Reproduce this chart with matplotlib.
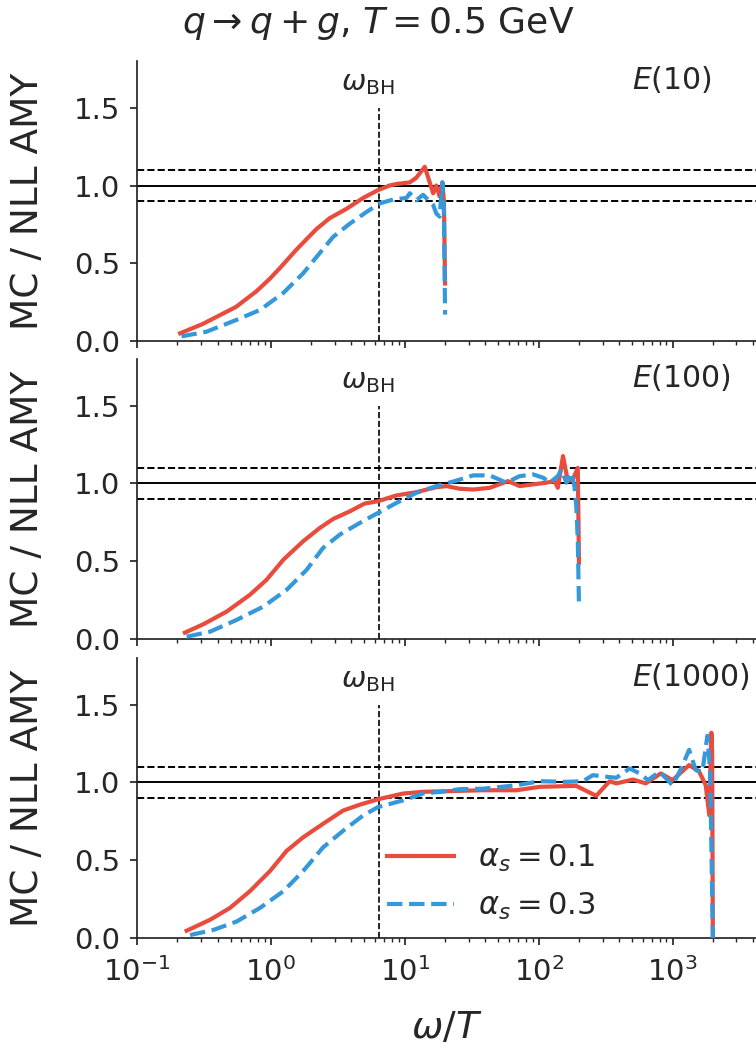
import numpy as np
import matplotlib
matplotlib.use("Agg")
import matplotlib.pyplot as plt

# omega/T values and MC / NLL AMY ratios
# E(10)
x10_a1 = [0.21, 0.31, 0.55, 0.78, 0.98, 1.17, 1.56, 2.19, 2.75, 3.67, 4.89, 6.3, 7.7, 8.7,
          10.9, 12.2, 14.1, 16.3, 17.2, 18.2, 19.1, 19.6, 20.0]
y10_a1 = [0.05, 0.11, 0.22, 0.32, 0.40, 0.47, 0.59, 0.72, 0.79, 0.85, 0.92, 0.97, 1.00, 1.01,
          1.02, 1.05, 1.12, 0.95, 1.00, 0.93, 1.02, 0.90, 0.37]
x10_a3 = [0.215, 0.33, 0.55, 0.83, 1.24, 1.74, 2.19, 2.92, 3.89, 5.18, 6.5, 8.2, 10.3, 10.9,
          12.2, 13.7, 16.3, 17.2, 18.2, 19.1, 19.6, 20.0]
y10_a3 = [0.03, 0.06, 0.135, 0.20, 0.31, 0.435, 0.54, 0.67, 0.755, 0.83, 0.885, 0.91, 0.92, 0.95,
          0.905, 0.94, 0.875, 0.82, 0.80, 1.02, 0.85, 0.17]

# E(100)
x100_a1 = [0.228, 0.313, 0.467, 0.697, 0.929, 1.24, 1.74, 2.32, 2.92, 3.89, 5.02, 6.32, 8.67,
           12.2, 17.2, 20.5, 25.7, 32.4, 43.1, 59.0, 72.1, 90.8, 114, 132, 139, 152, 165, 180,
           196, 200]
y100_a1 = [0.041, 0.095, 0.176, 0.284, 0.381, 0.51, 0.628, 0.714, 0.772, 0.821, 0.871, 0.886,
           0.923, 0.944, 0.976, 0.983, 0.966, 0.961, 0.972, 1.015, 0.983, 0.994, 1.005, 1.015,
           0.972, 1.176, 1.015, 1.026, 1.10, 0.49]
x100_a3 = [0.235, 0.351, 0.555, 0.877, 1.31, 1.85, 2.45, 3.27, 4.61, 6.32, 8.67, 12.2, 17.2,
           23.6, 32.4, 43.1, 57.3, 72.1, 90.8, 108, 121, 139, 148, 161, 175, 185, 191, 196, 200]
y100_a3 = [0.015, 0.047, 0.123, 0.208, 0.316, 0.445, 0.585, 0.671, 0.746, 0.811, 0.875, 0.94,
           0.983, 1.015, 1.052, 1.052, 1.005, 1.047, 1.058, 1.037, 1.005, 1.047, 1.09, 1.005,
           1.069, 0.983, 0.854, 0.64, 0.22]

# E(1000)
x1000_a1 = [0.235, 0.351, 0.494, 0.697, 0.984, 1.31, 1.74, 2.45, 3.47, 4.61, 6.32, 9.73, 13.7,
            20.5, 38.5, 68.2, 102, 191, 269, 339, 380, 506, 631, 817, 1000, 1330, 1580, 1770,
            1880, 1950, 1975, 2000]
y1000_a1 = [0.047, 0.117, 0.193, 0.301, 0.43, 0.56, 0.647, 0.734, 0.82, 0.857, 0.892, 0.929,
            0.94, 0.944, 0.95, 0.95, 0.972, 0.978, 0.914, 1.008, 0.994, 1.019, 0.994, 1.058,
            1.015, 1.112, 1.07, 0.982, 0.79, 1.32, 1.2, 0.0]
x1000_a3 = [0.249, 0.372, 0.555, 0.828, 1.24, 1.74, 2.45, 3.47, 4.89, 6.32, 9.73, 13.7, 20.5,
            25.7, 38.5, 68.2, 102, 161, 214, 254, 320, 380, 478, 568, 655, 800, 1000, 1160,
            1330, 1490, 1670, 1820, 1910, 2000]
y1000_a3 = [0.019, 0.052, 0.106, 0.193, 0.301, 0.43, 0.582, 0.69, 0.788, 0.842, 0.885, 0.929,
            0.944, 0.957, 0.96, 0.982, 1.008, 1.004, 1.008, 1.047, 1.037, 1.03, 1.09, 1.058,
            1.015, 1.07, 0.982, 1.09, 1.21, 1.08, 1.07, 1.30, 1.07, 0.0]

panel_labels = [r'$E(10)$', r'$E(100)$', r'$E(1000)$']
series_labels = [r'$\alpha_s = 0.1$', r'$\alpha_s = 0.3$']
omega_bh = 6.4

dark = '.15'
plt.rcParams['font.family'] = ['DejaVu Sans']
plt.rcParams['text.color'] = dark
plt.rcParams['axes.labelcolor'] = dark
plt.rcParams['xtick.color'] = dark
plt.rcParams['ytick.color'] = dark
plt.rcParams['axes.edgecolor'] = dark

red = '#e74c3c'
blue = '#3498db'

fig = plt.figure(figsize=(7.56, 10.51), dpi=100)
bottoms = [0.6755, 0.3920, 0.1075]
data = [(x10_a1, y10_a1, x10_a3, y10_a3),
        (x100_a1, y100_a1, x100_a3, y100_a3),
        (x1000_a1, y1000_a1, x1000_a3, y1000_a3)]

axes = []
for i, (b, d) in enumerate(zip(bottoms, data)):
    ax = fig.add_axes([0.1812, b, 0.8188, 0.2664])
    axes.append(ax)
    xa, ya, xb, yb = d
    ax.axhline(1.0, color='k', lw=1.4, zorder=1)
    ax.axhline(0.9, color='k', lw=1.4, ls='--', zorder=1)
    ax.axhline(1.1, color='k', lw=1.4, ls='--', zorder=1)
    ax.vlines(omega_bh, 0, 1.5, color='k', lw=1.2, ls='--', zorder=1)
    ax.plot(xa, ya, color=red, lw=3, label=series_labels[0], zorder=3)
    ax.plot(xb, yb, color=blue, lw=3, ls='--', label=series_labels[1], zorder=3)
    ax.set_xscale('log')
    ax.set_xlim(0.1, 4200)
    ax.set_ylim(0, 1.8)
    ax.set_yticks([0.0, 0.5, 1.0, 1.5])
    ax.set_yticklabels(['0.0', '0.5', '1.0', '1.5'])
    for s in ['top', 'right']:
        ax.spines[s].set_visible(False)
    for s in ['left', 'bottom']:
        ax.spines[s].set_linewidth(1.25)
    ax.tick_params(which='major', direction='out', length=5, width=1.25, labelsize=21, pad=7)
    ax.tick_params(axis='x', which='major', pad=9)
    ax.tick_params(which='minor', direction='out', length=3, width=1.0)
    ax.set_ylabel('MC / NLL AMY', fontsize=27, labelpad=20)
    ax.text(5.3, 1.66, r'$\omega_{\rm BH}$', fontsize=21, ha='center', va='center')
    ax.text(0.80, 0.935, panel_labels[i], transform=ax.transAxes, fontsize=21.5,
            ha='left', va='center')
    if i < 2:
        ax.tick_params(labelbottom=False)

fig.suptitle(r'$q \rightarrow q + g$, $T = 0.5$ GeV', fontsize=26, x=0.5, y=0.995, va='top')
axes[2].set_xlabel(r'$\omega/T$', fontsize=27, labelpad=16)
axes[2].legend(loc='center left', bbox_to_anchor=(0.359, 0.2), frameon=False, fontsize=22,
               handlelength=2.2, labelspacing=0.55)

fig.savefig('out.png', dpi=100)
